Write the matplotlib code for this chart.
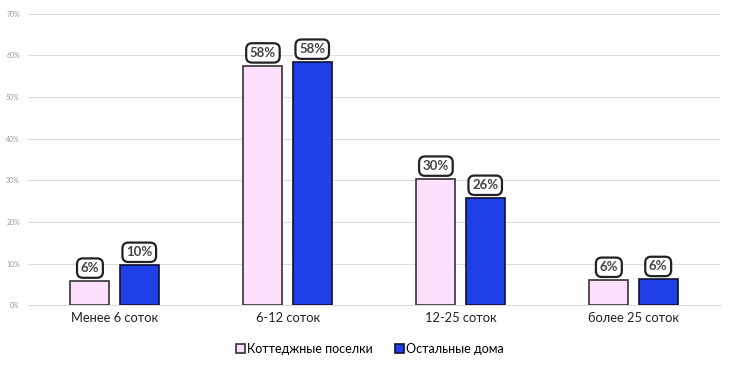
import matplotlib
matplotlib.use("Agg")
import matplotlib.pyplot as plt
import numpy as np

categories = ["Менее 6 соток", "6-12 соток", "12-25 соток", "более 25 соток"]
series_names = ["Коттеджные поселки", "Остальные дома"]
cottage = [5.8, 57.5, 30.3, 6.0]
others = [9.6, 58.4, 25.7, 6.2]
cottage_labels = ["6%", "58%", "30%", "6%"]
others_labels = ["10%", "58%", "26%", "6%"]
yticks = [0, 10, 20, 30, 40, 50, 60, 70]

plt.rcParams['font.family'] = ['Lato', 'DejaVu Sans']

fig = plt.figure(figsize=(7.4, 3.74), dpi=100)
ax = fig.add_axes([0.038, 0.184, 0.935, 0.779])

x = np.arange(len(categories))
w = 0.225
gap = 0.03
b1 = ax.bar(x - w/2 - gap, cottage, w, color="#FFE0FC", edgecolor="#333333", linewidth=1.2, label=series_names[0], zorder=3)
b2 = ax.bar(x + w/2 + gap, others, w, color="#1E40E6", edgecolor="#111133", linewidth=1.2, label=series_names[1], zorder=3)

for bars, labs in ((b1, cottage_labels), (b2, others_labels)):
    for r, t in zip(bars, labs):
        ax.annotate(t, (r.get_x() + r.get_width()/2, r.get_height()), xytext=(0, 5),
                    textcoords="offset points", ha="center", va="bottom", fontsize=9.5,
                    fontweight="bold", color="#444444", zorder=5,
                    bbox=dict(boxstyle="round,pad=0.28,rounding_size=0.45", fc="white", ec="#222222", lw=1.6))

ax.set_xlim(-0.5, 3.5)
ax.set_ylim(0, 70)
ax.set_yticks(yticks)
ax.set_yticklabels([f"{v}%" for v in yticks], fontsize=5, color="#999999")
ax.set_xticks(x)
ax.set_xticklabels(categories, fontsize=9.3, color="#222222")
ax.tick_params(axis="both", length=0, pad=5)
ax.tick_params(axis="y", pad=6)
ax.grid(axis="y", color="#dddddd", linewidth=0.8, zorder=0)
for s in ax.spines.values():
    s.set_visible(False)
ax.spines['bottom'].set_visible(True)
ax.spines['bottom'].set_color("#dddddd")

fig.legend(handles=[b1, b2], labels=series_names, loc="center", bbox_to_anchor=(0.5, 0.068),
           ncol=2, frameon=False, fontsize=9, handlelength=0.7, handleheight=0.7,
           handletextpad=0.2, columnspacing=1.8)

fig.savefig("out.png", dpi=100)
